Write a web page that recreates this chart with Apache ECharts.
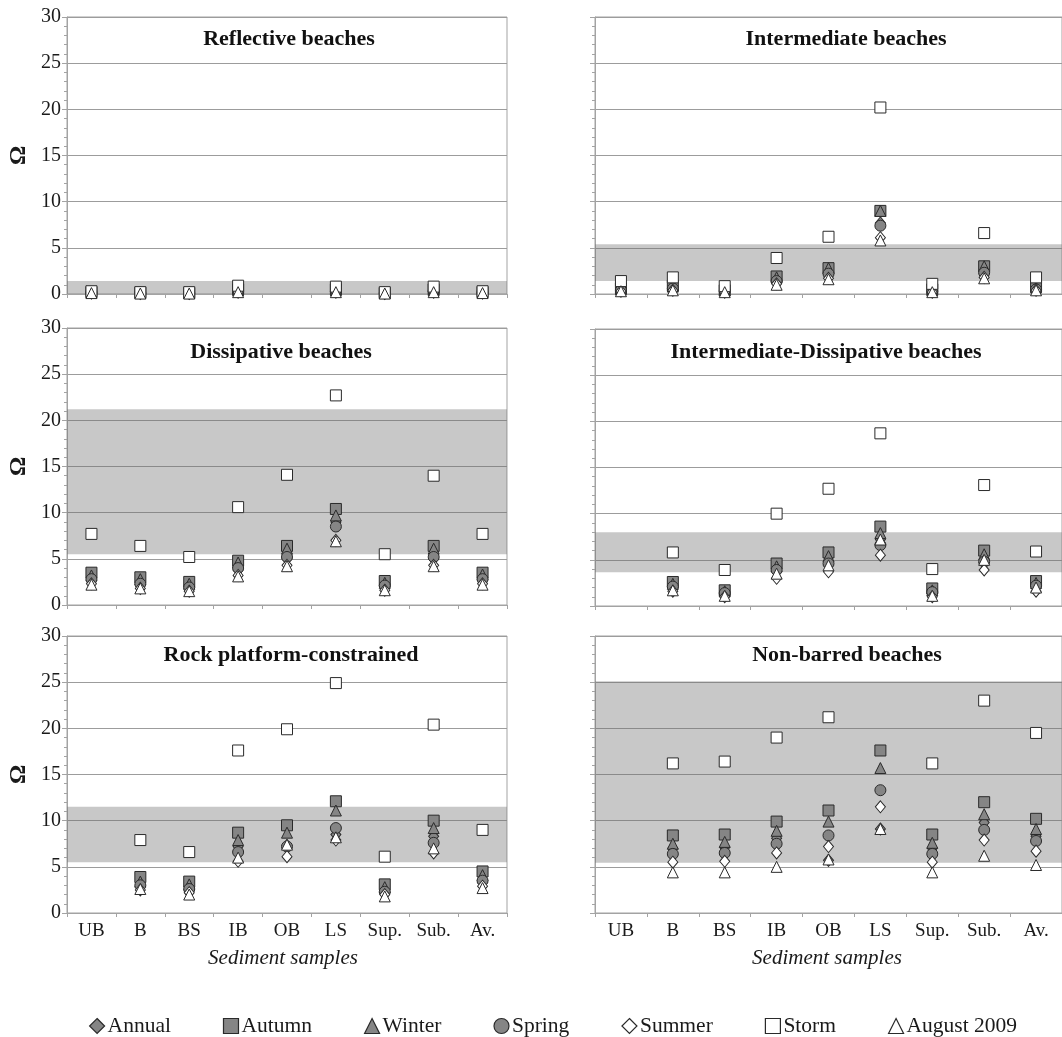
<!DOCTYPE html>
<html>
<head>
<meta charset="utf-8">
<script src="https://cdn.jsdelivr.net/npm/echarts@6/dist/echarts.min.js"></script>
<style>
html,body{margin:0;padding:0;background:#fff;}
#chart{width:1062px;height:1037px;}
</style>
</head>
<body>
<div id="chart"></div>
<script>
// ---------- DATA ----------
const categories = ['UB', 'B', 'BS', 'IB', 'OB', 'LS', 'Sup.', 'Sub.', 'Av.'];
const seriesNames = ['Annual', 'Autumn', 'Winter', 'Spring', 'Summer', 'Storm', 'August 2009'];
const yTicks = [0, 5, 10, 15, 20, 25, 30];
const panelTitles = ['Reflective beaches', 'Intermediate beaches', 'Dissipative beaches',
  'Intermediate-Dissipative beaches', 'Rock platform-constrained', 'Non-barred beaches'];

// rows follow seriesNames order: Annual, Autumn, Winter, Spring, Summer, Storm, August 2009
const reflectiveValues = [
  [0.15, 0.1, 0.1, 0.3, null, 0.3, 0.1, 0.3, 0.15],
  [0.2, 0.15, 0.1, 0.5, null, 0.5, 0.1, 0.5, 0.2],
  [0.2, 0.1, 0.1, 0.4, null, 0.4, 0.1, 0.4, 0.2],
  [0.15, 0.1, 0.1, 0.3, null, 0.3, 0.1, 0.3, 0.15],
  [0.1, 0.05, 0.05, 0.2, null, 0.2, 0.05, 0.2, 0.1],
  [0.3, 0.2, 0.2, 0.9, null, 0.8, 0.2, 0.8, 0.3],
  [0.1, 0.05, 0.05, 0.2, null, 0.2, 0.05, 0.2, 0.1]
];
const intermediateValues = [
  [0.4, 0.6, 0.3, 1.4, 2.1, 7.7, 0.3, 2.2, 0.5],
  [0.6, 0.9, 0.4, 1.9, 2.8, 9.0, 0.5, 3.0, 0.8],
  [0.5, 0.8, 0.4, 1.8, 2.8, 9.0, 0.4, 3.0, 0.7],
  [0.4, 0.6, 0.3, 1.4, 2.2, 7.4, 0.3, 2.3, 0.5],
  [0.3, 0.4, 0.2, 1.1, 1.7, 6.1, 0.2, 1.8, 0.4],
  [1.4, 1.8, 0.85, 3.9, 6.2, 20.2, 1.1, 6.6, 1.8],
  [0.3, 0.4, 0.2, 1.0, 1.6, 5.8, 0.2, 1.7, 0.4]
];
const dissipativeValues = [
  [2.7, 2.2, 1.8, 3.8, 5.0, 9.0, 2.0, 5.0, 2.7],
  [3.5, 3.0, 2.5, 4.8, 6.4, 10.4, 2.6, 6.4, 3.5],
  [3.2, 2.8, 2.3, 4.6, 6.1, 9.7, 2.4, 6.1, 3.3],
  [2.8, 2.3, 1.9, 4.0, 5.2, 8.5, 2.1, 5.2, 2.8],
  [2.3, 1.8, 1.5, 3.2, 4.3, 7.0, 1.6, 4.3, 2.3],
  [7.7, 6.4, 5.2, 10.6, 14.1, 22.7, 5.5, 14.0, 7.7],
  [2.2, 1.8, 1.5, 3.1, 4.2, 6.9, 1.6, 4.2, 2.2]
];
const interDissValues = [
  [null, 2.0, 1.3, 3.8, 4.4, 7.2, 1.4, 4.7, 2.1],
  [null, 2.6, 1.7, 4.6, 5.8, 8.6, 1.9, 6.0, 2.7],
  [null, 2.4, 1.6, 4.3, 5.4, 7.9, 1.7, 5.6, 2.5],
  [null, 2.1, 1.4, 3.9, 4.6, 6.6, 1.5, 4.8, 2.2],
  [null, 1.6, 1.0, 3.0, 3.7, 5.5, 1.0, 3.9, 1.6],
  [null, 5.8, 3.9, 10.0, 12.7, 18.7, 4.0, 13.1, 5.9],
  [null, 1.7, 1.1, 3.5, 4.4, 7.2, 1.1, 5.0, 2.0]
];
const rockValues = [
  [null, 2.9, 2.4, 7.2, 7.3, 8.5, 2.2, 8.3, 3.3],
  [null, 3.9, 3.4, 8.7, 9.5, 12.1, 3.1, 10.0, 4.5],
  [null, 3.4, 3.1, 7.9, 8.7, 11.1, 2.8, 9.2, 4.1],
  [null, 3.0, 2.6, 6.6, 7.2, 9.2, 2.3, 7.6, 3.5],
  [null, 2.5, 2.2, 5.6, 6.1, 7.9, 2.0, 6.5, 2.9],
  [null, 7.9, 6.6, 17.6, 19.9, 24.9, 6.1, 20.4, 9.0],
  [null, 2.6, 2.0, 6.0, 7.4, 8.2, 1.8, 7.0, 2.7]
];
const nonBarredValues = [
  [null, 7.0, 7.1, 8.1, 5.7, 9.1, 7.0, 9.8, 8.3],
  [null, 8.4, 8.5, 9.9, 11.1, 17.6, 8.5, 12.0, 10.2],
  [null, 7.5, 7.7, 8.9, 9.9, 15.7, 7.6, 10.7, 9.1],
  [null, 6.4, 6.5, 7.5, 8.4, 13.3, 6.4, 9.0, 7.8],
  [null, 5.5, 5.6, 6.5, 7.2, 11.5, 5.5, 7.9, 6.7],
  [null, 16.2, 16.4, 19.0, 21.2, null, 16.2, 23.0, 19.5],
  [null, 4.4, 4.4, 5.0, 5.8, 9.1, 4.4, 6.2, 5.2]
];
// shaded range per panel [low, high]
const bandRanges = [[0, 1.4], [1.4, 5.4], [5.5, 21.2], [3.65, 8.0], [5.5, 11.5], [5.45, 25.1]];

const panelValues = [reflectiveValues, intermediateValues, dissipativeValues,
  interDissValues, rockValues, nonBarredValues];

// ---------- STYLE ----------
const FONT = '"Liberation Serif", "Times New Roman", serif';
const GRAY_FILL = '#858585';
const EDGE = '#2a2a2a';
const symbolStyles = [
  { symbol: 'diamond', size: [10, 12], fill: GRAY_FILL },
  { symbol: 'rect', size: 11, fill: GRAY_FILL },
  { symbol: 'triangle', size: 11, fill: GRAY_FILL },
  { symbol: 'circle', size: 11, fill: GRAY_FILL },
  { symbol: 'diamond', size: [10, 12], fill: '#ffffff' },
  { symbol: 'rect', size: 11, fill: '#ffffff' },
  { symbol: 'triangle', size: 11, fill: '#ffffff' }
];

const gridPos = [
  { left: 67, top: 17 }, { left: 595, top: 17 },
  { left: 67, top: 328 }, { left: 595, top: 329 },
  { left: 67, top: 636 }, { left: 595, top: 636 }
];
const gridW = [440, 472];
const gridH = 277;
const titlePos = [[289, 39], [846, 39], [281, 352], [826, 352], [291, 655], [847, 655]];

const grids = [], xAxes = [], yAxes = [], series = [], graphics = [];

for (let p = 0; p < 6; p++) {
  const isLeft = p % 2 === 0;
  const isBottom = p >= 4;
  grids.push({
    left: gridPos[p].left, top: gridPos[p].top,
    width: gridW[isLeft ? 0 : 1], height: gridH,
    show: true, borderColor: '#a3a3a3', borderWidth: 1, backgroundColor: 'transparent'
  });
  xAxes.push({
    type: 'category', gridIndex: p, data: categories, boundaryGap: true,
    axisLine: { show: true, lineStyle: { color: '#a3a3a3', width: 1 } },
    axisTick: { show: true, interval: 0, length: 4, lineStyle: { color: '#a3a3a3' } },
    axisLabel: { show: isBottom, interval: 0, margin: 9, fontFamily: FONT, fontSize: 19, color: '#1a1a1a' },
    splitLine: { show: false }
  });
  yAxes.push({
    type: 'value', gridIndex: p, min: yTicks[0], max: yTicks[yTicks.length - 1], interval: 5,
    name: isLeft ? 'Ω' : '', nameLocation: 'middle', nameRotate: 90, nameGap: 36,
    nameTextStyle: { fontFamily: FONT, fontSize: 24, fontWeight: 'bold', color: '#1a1a1a' },
    axisLine: { show: true, lineStyle: { color: '#a3a3a3', width: 1 } },
    axisTick: { show: true, length: 5, lineStyle: { color: '#a3a3a3' } },
    minorTick: { show: true, splitNumber: 5, length: 3, lineStyle: { color: '#a3a3a3' } },
    axisLabel: { show: isLeft, margin: 6, fontFamily: FONT, fontSize: 20, color: '#1a1a1a' },
    splitLine: { show: true, lineStyle: { color: '#9c9c9c', width: 1.2 } }
  });
  // shaded band
  series.push({
    type: 'scatter', xAxisIndex: p, yAxisIndex: p, data: [], silent: true, z: 1,
    markArea: {
      silent: true,
      itemStyle: { color: 'rgba(110,110,110,0.38)' },
      data: [[{ yAxis: bandRanges[p][0] }, { yAxis: bandRanges[p][1] }]]
    }
  });
  for (let s = 0; s < seriesNames.length; s++) {
    const st = symbolStyles[s];
    series.push({
      name: seriesNames[s], type: 'scatter', xAxisIndex: p, yAxisIndex: p,
      symbol: st.symbol, symbolSize: st.size, z: 3 + s,
      itemStyle: { color: st.fill, borderColor: EDGE, borderWidth: 1, opacity: 1 },
      emphasis: { disabled: true },
      data: panelValues[p][s]
    });
  }
  graphics.push({
    type: 'text', x: titlePos[p][0], y: titlePos[p][1], z: 100,
    style: { text: panelTitles[p], textAlign: 'center', textVerticalAlign: 'middle',
      font: 'bold 22px ' + FONT, fill: '#111' }
  });
  if (isBottom) {
    graphics.push({
      type: 'text', x: isLeft ? 283 : 827, y: 958, z: 100,
      style: { text: 'Sediment samples', textAlign: 'center', textVerticalAlign: 'middle',
        font: 'italic 21px ' + FONT, fill: '#1a1a1a' }
    });
  }
}

const legendData = seriesNames.map((n, i) => ({
  name: n,
  icon: symbolStyles[i].symbol,
  itemStyle: { color: symbolStyles[i].fill, borderColor: EDGE, borderWidth: 1.2 }
}));

const chart = echarts.init(document.getElementById('chart'), null, { renderer: 'canvas' });
chart.setOption({
  animation: false,
  backgroundColor: '#ffffff',
  grid: grids,
  xAxis: xAxes,
  yAxis: yAxes,
  series: series,
  graphic: graphics,
  legend: {
    data: legendData, left: 84, top: 1010,
    itemWidth: 15, itemHeight: 15, itemGap: 52,
    textStyle: { fontFamily: FONT, fontSize: 21.5, color: '#1a1a1a', padding: [0, 0, 0, -2] },
    selectedMode: false
  }
});
</script>
</body>
</html>
